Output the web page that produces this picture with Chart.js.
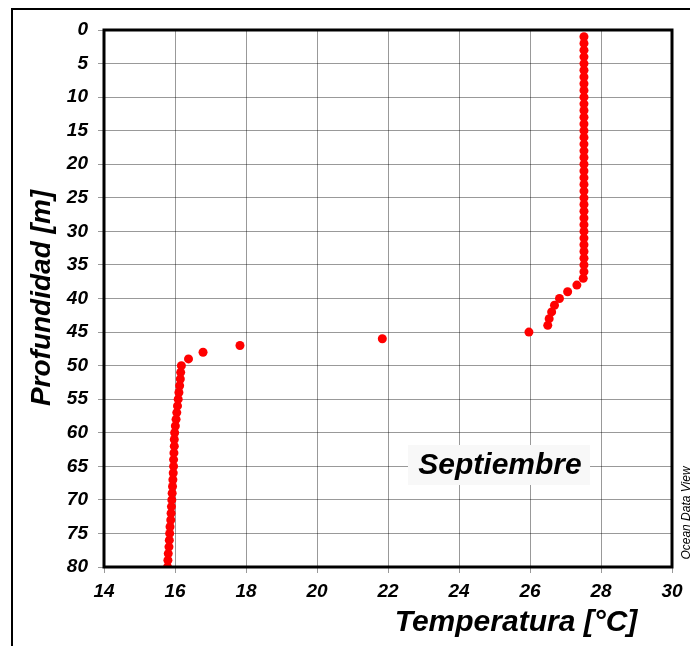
<!DOCTYPE html>
<html>
<head>
<meta charset="utf-8">
<script src="https://cdn.jsdelivr.net/npm/chart.js@4"></script>
<style>
  html, body { margin: 0; padding: 0; background: #fff; overflow: hidden; }
  #wrap { position: relative; width: 690px; height: 646px; }
  #frame {
    position: absolute; left: 11px; top: 8px; width: 700px; height: 660px;
    border-top: 2px solid #000; border-left: 2px solid #000;
  }
  canvas { position: absolute; left: 0; top: 0; }
</style>
</head>
<body>
<div id="wrap">
  <div id="frame"></div>
  <canvas id="chart" width="690" height="646"></canvas>
</div>
<script>
// profile: depth in metres, temperature in °C
const depths = [
  1, 2, 3, 4, 5, 6, 7, 8, 9, 10, 11, 12, 13, 14, 15, 16, 17, 18, 19, 20,
  21, 22, 23, 24, 25, 26, 27, 28, 29, 30, 31, 32, 33, 34, 35, 36, 37,
  38, 39, 40, 41, 42, 43, 44, 45, 46, 47, 48, 49,
  50, 51, 52, 53, 54, 55, 56, 57, 58, 59, 60, 61, 62, 63, 64, 65,
  66, 67, 68, 69, 70, 71, 72, 73, 74, 75, 76, 77, 78, 79, 80
];
const temps = [
  27.52, 27.52, 27.52, 27.52, 27.52, 27.52, 27.52, 27.52, 27.52, 27.52,
  27.52, 27.52, 27.52, 27.52, 27.52, 27.52, 27.52, 27.52, 27.52, 27.52,
  27.52, 27.52, 27.52, 27.52, 27.52, 27.52, 27.52, 27.52, 27.52, 27.52,
  27.52, 27.52, 27.52, 27.52, 27.52, 27.52, 27.50,
  27.32, 27.06, 26.83, 26.69, 26.61, 26.54, 26.50, 25.97, 21.84, 17.83, 16.79, 16.38,
  16.18, 16.16, 16.15, 16.13, 16.11, 16.09, 16.07, 16.05, 16.03, 16.01, 15.99,
  15.98, 15.98, 15.97, 15.96, 15.96, 15.95, 15.94, 15.93, 15.92, 15.91,
  15.90, 15.89, 15.88, 15.86, 15.85, 15.84, 15.83, 15.81, 15.80, 15.79
];
const xTicks = [14, 16, 18, 20, 22, 24, 26, 28, 30];
const yTicks = [0, 5, 10, 15, 20, 25, 30, 35, 40, 45, 50, 55, 60, 65, 70, 75, 80];

const FONT = '"Liberation Sans", Arial, sans-serif';
const points = depths.map((d, i) => ({ x: temps[i], y: d }));

const extras = {
  id: 'extras',
  afterDatasetsDraw(chart) {
    const { ctx, chartArea: a } = chart;
    ctx.save();
    // plot frame
    ctx.strokeStyle = '#000';
    ctx.lineWidth = 3;
    ctx.strokeRect(a.left, a.top, a.right - a.left, a.bottom - a.top);

    // month label
    ctx.fillStyle = '#f8f8f8';
    ctx.fillRect(a.left + 304, a.top + 415, 182, 40);
    ctx.fillStyle = '#000';
    ctx.font = 'italic bold 30px ' + FONT;
    ctx.textAlign = 'center';
    ctx.textBaseline = 'middle';
    ctx.fillText('Septiembre', a.left + 396, a.top + 436);

    // axis titles
    ctx.font = 'italic bold 30px ' + FONT;
    ctx.fillText('Temperatura [°C]', 516, 623);
    ctx.save();
    ctx.translate(42, 298);
    ctx.rotate(-Math.PI / 2);
    ctx.font = 'italic bold 28px ' + FONT;
    ctx.fillText('Profundidad [m]', 0, 0);
    ctx.restore();

    // software credit
    ctx.save();
    ctx.translate(687, 513);
    ctx.rotate(-Math.PI / 2);
    ctx.font = 'italic 12px ' + FONT;
    ctx.fillText('Ocean Data View', 0, 0);
    ctx.restore();
    ctx.restore();
  }
};

new Chart(document.getElementById('chart'), {
  type: 'scatter',
  data: {
    datasets: [{
      data: points,
      backgroundColor: '#ff0000',
      borderWidth: 0,
      pointRadius: 4.5,
      pointHoverRadius: 4.5
    }]
  },
  options: {
    responsive: false,
    animation: false,
    layout: { padding: { top: 30, right: 18, left: 0, bottom: 0 } },
    plugins: { legend: { display: false }, tooltip: { enabled: false } },
    scales: {
      x: {
        type: 'linear',
        min: 14, max: 30,
        afterBuildTicks: s => { s.ticks = xTicks.map(v => ({ value: v })); },
        afterFit: s => { s.height = 79; },
        grid: { color: 'rgba(0,0,0,0.4)', lineWidth: 1, tickLength: 6, tickColor: 'rgba(0,0,0,0.4)' },
        border: { display: false },
        ticks: { color: '#000', padding: 7, font: { family: FONT, size: 19, style: 'italic', weight: 'bold' } }
      },
      y: {
        type: 'linear',
        reverse: true,
        min: 0, max: 80,
        afterBuildTicks: s => { s.ticks = yTicks.map(v => ({ value: v })); },
        afterFit: s => { s.width = 104; },
        grid: { color: 'rgba(0,0,0,0.4)', lineWidth: 1, tickLength: 6, tickColor: 'rgba(0,0,0,0.4)' },
        border: { display: false },
        ticks: { color: '#000', padding: 10, font: { family: FONT, size: 19, style: 'italic', weight: 'bold' } }
      }
    }
  },
  plugins: [extras]
});
</script>
</body>
</html>
